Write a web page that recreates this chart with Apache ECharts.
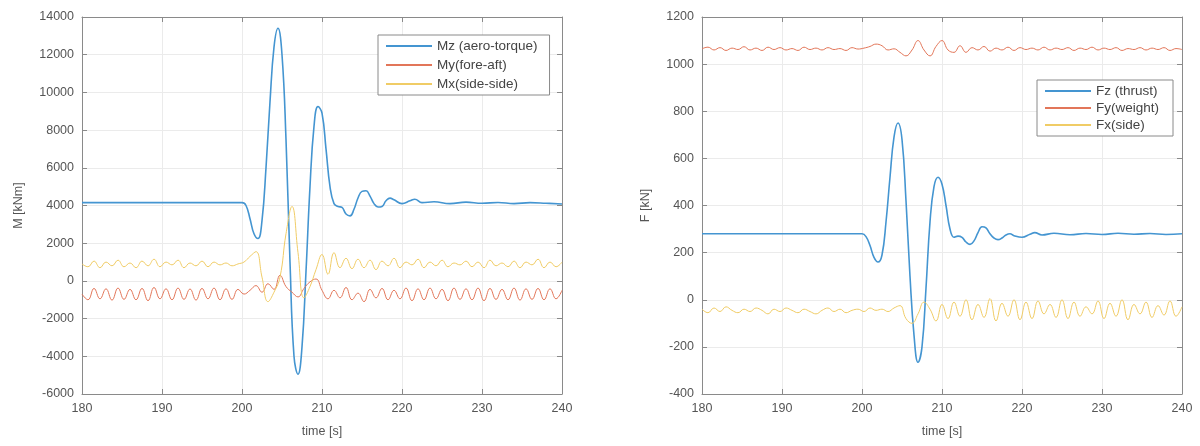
<!DOCTYPE html>
<html><head><meta charset="utf-8">
<script src="https://cdn.jsdelivr.net/npm/echarts@6/dist/echarts.min.js"></script>
<style>html,body{margin:0;padding:0;background:#fff}#c{width:1200px;height:446px}</style>
</head><body><div id="c"></div>
<script>
// pulse-region time samples (s) for Mz and Fz
const tPulse = [180, 190, 199, 200, 200.5, 201, 201.5, 202, 202.5, 203, 203.5, 204, 204.5, 205, 205.5, 206, 206.5, 207, 207.5, 208, 208.5, 209, 209.5, 210, 210.5, 211, 211.5, 212, 212.5, 213, 213.5, 214, 214.5, 215, 215.5, 216, 216.5, 217, 217.5, 218, 218.5, 219, 220, 221, 221.6, 222.5, 224, 226, 228, 230, 232, 234, 236, 238, 240];
// oscillation samples (s) for My, Mx, Fy, Fx
const tOsc = [180, 180.75, 181.5, 182.25, 183, 183.75, 184.5, 185.25, 186, 186.75, 187.5, 188.25, 189, 189.75, 190.5, 191.25, 192, 192.75, 193.5, 194.25, 195, 195.75, 196.5, 197.25, 198, 198.75, 199.5, 200.25, 201, 201.75, 202.5, 203.25, 204, 204.75, 205.5, 206.25, 207, 207.75, 208.5, 209.25, 210, 210.75, 211.5, 212.25, 213, 213.75, 214.5, 215.25, 216, 216.75, 217.5, 218.25, 219, 219.75, 220.5, 221.25, 222, 222.75, 223.5, 224.25, 225, 225.75, 226.5, 227.25, 228, 228.75, 229.5, 230.25, 231, 231.75, 232.5, 233.25, 234, 234.75, 235.5, 236.25, 237, 237.75, 238.5, 239.25, 240];

// Left: moments [kNm]
const Mz = [4150, 4150, 4150, 4150, 4000, 3300, 2500, 2250, 3200, 6000, 9500, 12400, 13400, 12000, 7500, 1000, -4000, -4950, -3500, 500, 5000, 8200, 9250, 8900, 7000, 5000, 4100, 3950, 3900, 3550, 3450, 3800, 4400, 4750, 4780, 4500, 4100, 3920, 3950, 4250, 4390, 4300, 4100, 4250, 4330, 4150, 4200, 4100, 4180, 4120, 4160, 4100, 4150, 4120, 4080];
const My = [-700, -1000, -400, -950, -420, -1020, -380, -980, -450, -1000, -400, -1050, -350, -950, -420, -1000, -380, -980, -430, -1020, -400, -950, -380, -1000, -420, -980, -450, -700,
  -500, -250, -600, -150, -450, 300, -300, -600, -850, -400, -50, 100, -500, -950, -500, -900, -350, -1000, -650, -1100, -450, -900, -400, -1000, -500, -950, -380, -1050, -420, -1000, -380, -950, -450, -1050, -380, -980, -420, -1000, -380, -1050, -400, -980, -450, -1000, -380, -1020, -420, -980, -400, -1000, -420, -950, -500];
const Mx = [900, 750, 1050, 700, 1000, 800, 1100, 750, 950, 700, 1050, 800, 1150, 750, 1000, 850, 1100, 700, 950, 800, 1050, 750, 1000, 850, 950, 800, 900,
  1000, 1300, 1550, 200, -1100, -600, 200, 2500, 3950, 1500, -900, -300, 600, 1400, 350, 1500, 700, 1200, 650, 1150, 700, 1100, 600, 1050, 800, 1200, 700, 1000, 850, 1150, 700, 1000, 800, 1100, 750, 950, 850, 1050, 750, 1000, 700, 1100, 800, 950, 750, 1050, 700, 1000, 850, 1150, 700, 1000, 750, 1000];

// Right: forces [kN]
const Fz = [280, 280, 280, 280, 268, 230, 180, 160, 190, 330, 520, 690, 750, 680, 420, 100, -150, -265, -200, 50, 330, 480, 520, 490, 400, 300, 265, 270, 265, 245, 235, 250, 285, 310, 305, 280, 262, 255, 262, 275, 280, 272, 265, 278, 285, 275, 282, 276, 281, 277, 282, 278, 281, 277, 280];
const Fy = [1065, 1072, 1060, 1070, 1058, 1068, 1062, 1074, 1060, 1068, 1058, 1072, 1062, 1070, 1060, 1066, 1058, 1072, 1062, 1068, 1060, 1070, 1062, 1066, 1058, 1070, 1064,
  1068, 1075, 1085, 1078, 1060, 1065, 1050, 1035, 1060, 1100, 1060, 1035, 1075, 1100, 1060, 1050, 1078, 1050, 1070, 1060, 1075, 1055, 1068, 1060, 1072, 1058, 1070, 1062, 1068, 1060, 1072, 1060, 1068, 1062, 1070, 1058, 1068, 1062, 1072, 1060, 1068, 1062, 1070, 1058, 1066, 1062, 1070, 1060, 1068, 1062, 1070, 1058, 1066, 1062];
const Fx = [-40, -55, -35, -50, -30, -45, -55, -40, -50, -35, -45, -60, -40, -50, -35, -45, -55, -40, -50, -60, -45, -35, -50, -40, -55, -45, -40,
  -50, -35, -45, -40, -50, -35, -25, -80, -100, -60, -10, -40, -90, -20, -80, -10, -70, 0, -85, -20, -75, 5, -90, -15, -70, 0, -85, -10, -80, -5, -60, -20, -75, 0, -80, -10, -70, -30, -60, -5, -80, -15, -70, 0, -85, -20, -60, -10, -75, -25, -65, -5, -70, -30];

const namesL = ['Mz (aero-torque)', 'My(fore-aft)', 'Mx(side-side)'];
const namesR = ['Fz (thrust)', 'Fy(weight)', 'Fx(side)'];

const C_BLUE = '#4495d1', C_RED = '#e27659', C_YEL = '#f0cc66';
const AX = '#8a8a8a', TXT = '#555', GRID = '#ebebeb';
const FONT = 'Liberation Sans, Arial, sans-serif';

function pairs(t, v) { return t.map((x, i) => [x, v[i]]); }

const chart = echarts.init(document.getElementById('c'), null, { renderer: 'canvas' });

function xAx(gi, pos) {
  const top = pos === 'top';
  return {
    type: 'value', gridIndex: gi, position: pos, min: 180, max: 240, interval: 10,
    name: top ? '' : 'time [s]', nameLocation: 'middle', nameGap: 31,
    nameTextStyle: { color: TXT, fontSize: 12.5, fontFamily: FONT },
    axisLine: { show: true, onZero: false, lineStyle: { color: AX, width: 1 } },
    axisTick: { show: true, inside: true, length: 5, lineStyle: { color: AX } },
    axisLabel: { show: !top, color: TXT, fontSize: 12.5, fontFamily: FONT, margin: 8, formatter: v => String(v) },
    splitLine: { show: !top, lineStyle: { color: GRID, width: 1 } }
  };
}
function yAx(gi, pos, min, max, iv, name, gap) {
  const right = pos === 'right';
  return {
    type: 'value', gridIndex: gi, position: pos, min: min, max: max, interval: iv,
    name: right ? '' : name, nameLocation: 'middle', nameGap: gap, nameRotate: 90,
    nameTextStyle: { color: TXT, fontSize: 12.5, fontFamily: FONT },
    axisLine: { show: true, onZero: false, lineStyle: { color: AX, width: 1 } },
    axisTick: { show: true, inside: true, length: 5, lineStyle: { color: AX } },
    axisLabel: { show: !right, color: TXT, fontSize: 12.5, fontFamily: FONT, margin: 8, formatter: v => String(v) },
    splitLine: { show: !right, lineStyle: { color: GRID, width: 1 } }
  };
}
function ser(name, xi, yi, t, v, color, w) {
  return {
    name: name, type: 'line', xAxisIndex: xi, yAxisIndex: yi, data: pairs(t, v),
    showSymbol: false, smooth: 0.45,
    lineStyle: { color: color, width: w }, itemStyle: { color: color },
    emphasis: { disabled: true }, animation: false, z: 3
  };
}
const legendBase = {
  orient: 'vertical', itemWidth: 46, itemHeight: 2, itemGap: 5,
  borderColor: '#8a8a8a', borderWidth: 1, backgroundColor: '#fff',
  textStyle: { color: '#444', fontSize: 13.5, fontFamily: FONT },
  icon: 'rect', selectedMode: false
};

chart.setOption({
  animation: false,
  grid: [
    { left: 82, top: 17, width: 480, height: 377 },
    { left: 702, top: 17, width: 480, height: 377 }
  ],
  xAxis: [xAx(0, 'bottom'), xAx(0, 'top'), xAx(1, 'bottom'), xAx(1, 'top')],
  yAxis: [
    yAx(0, 'left', -6000, 14000, 2000, 'M [kNm]', 57),
    yAx(0, 'right', -6000, 14000, 2000, '', 0),
    yAx(1, 'left', -400, 1200, 200, 'F [kN]', 50),
    yAx(1, 'right', -400, 1200, 200, '', 0)
  ],
  legend: [
    Object.assign({}, legendBase, { data: namesL, left: 378, top: 35, padding: [4, 12, 4, 8] }),
    Object.assign({}, legendBase, { data: namesR, left: 1037, top: 80, padding: [4, 14, 4, 8], itemGap: 3 })
  ],
  series: [
    ser(namesL[0], 0, 0, tPulse, Mz, C_BLUE, 1.6),
    ser(namesL[1], 0, 0, tOsc, My, C_RED, 1),
    ser(namesL[2], 0, 0, tOsc, Mx, C_YEL, 1),
    ser(namesR[0], 2, 2, tPulse, Fz, C_BLUE, 1.6),
    ser(namesR[1], 2, 2, tOsc, Fy, C_RED, 1),
    ser(namesR[2], 2, 2, tOsc, Fx, C_YEL, 1)
  ]
});
</script></body></html>
